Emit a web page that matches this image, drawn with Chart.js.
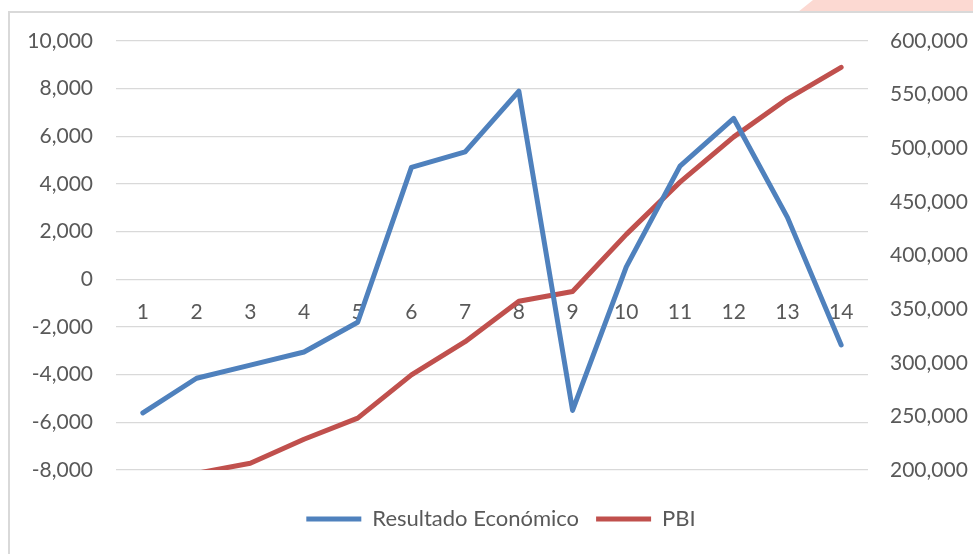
<!DOCTYPE html>
<html>
<head>
<meta charset="utf-8">
<script src="https://cdn.jsdelivr.net/npm/chart.js@4.4.1/dist/chart.umd.min.js"></script>
<style>
  html, body { margin: 0; padding: 0; background: #fff; }
  #wrap { position: relative; width: 973px; height: 554px; overflow: hidden; }
  #deco { position: absolute; left: 0; top: 0; width: 973px; height: 12px; background: #fcd9d2;
          clip-path: polygon(813px 0, 973px 0, 973px 12px, 798px 12px); }
  #frame { position: absolute; left: 8px; top: 11px; width: 990px; height: 580px;
           border-left: 2px solid #d9d9d9; border-top: 2px solid #d9d9d9; background: #fff; }
  .chart-box { position: absolute; left: 0; top: 0; width: 973px; height: 554px; }
</style>
</head>
<body>
<div id="wrap">
  <div id="deco"></div>
  <div id="frame"></div>
  <div class="chart-box"><canvas id="chartPbi"></canvas></div>
</div>
<script>
const categorias = ['1', '2', '3', '4', '5', '6', '7', '8', '9', '10', '11', '12', '13', '14'];
const resultadoEconomico = [-5600, -4150, -3600, -3050, -1800, 4700, 5350, 7900, -5500, 520, 4750, 6750, 2600, -2750];
const pbi = [185000, 196900, 206300, 228700, 248400, 288700, 319600, 357300, 366400, 419700, 468400, 510600, 546100, 575400];

const FONT = { family: 'Lato', size: 21 };
const GRIS = '#595959';

function numberFmt(value) {
  return new Intl.NumberFormat('en-US', { maximumFractionDigits: 0 }).format(Number(value || 0));
}

new Chart(document.getElementById('chartPbi'), {
  type: 'line',
  data: {
    labels: categorias,
    datasets: [
      {
        label: 'Resultado Económico',
        data: resultadoEconomico,
        yAxisID: 'y',
        borderColor: '#4f81bd',
        backgroundColor: '#4f81bd',
        borderWidth: 5,
        borderCapStyle: 'round',
        borderJoinStyle: 'round',
        pointRadius: 0,
        tension: 0,
        clip: 0
      },
      {
        label: 'PBI',
        data: pbi,
        yAxisID: 'y1',
        borderColor: '#c0504d',
        backgroundColor: '#c0504d',
        borderWidth: 5,
        borderCapStyle: 'round',
        borderJoinStyle: 'round',
        pointRadius: 0,
        tension: 0,
        clip: 0
      }
    ]
  },
  options: {
    responsive: true,
    maintainAspectRatio: false,
    animation: false,
    // left padding + y width = 116 (plot left edge); the extra left padding nudges the legend right
    layout: { padding: { top: 41, left: 29, right: 0, bottom: 14 } },
    plugins: {
      tooltip: { enabled: false },
      legend: {
        position: 'bottom',
        // empty title only used as a spacer between the plot and the legend row
        title: { display: true, text: '', font: { size: 10, lineHeight: 1.2 }, padding: { top: 9, bottom: 0 } },
        labels: {
          color: GRIS,
          font: { family: 'Lato', size: 22 },
          usePointStyle: true,
          pointStyle: 'line',
          pointStyleWidth: 55,
          padding: 17
        }
      }
    },
    scales: {
      x: {
        type: 'category',
        offset: true,
        position: { y: 0 },
        grid: { display: false, drawTicks: false },
        border: { display: false },
        ticks: { color: GRIS, font: FONT, padding: 20, maxRotation: 0, autoSkip: false }
      },
      y: {
        position: 'left',
        min: -8000,
        max: 10000,
        ticks: { stepSize: 2000, color: GRIS, font: FONT, padding: 23, callback: (v) => numberFmt(v) },
        grid: { color: '#d9d9d9', lineWidth: 1.2, drawTicks: false },
        border: { display: false },
        afterFit: (scale) => { scale.width = 87; }
      },
      y1: {
        position: 'right',
        min: 200000,
        max: 600000,
        ticks: { stepSize: 50000, color: GRIS, font: FONT, padding: 22, callback: (v) => numberFmt(v) },
        grid: { display: false, drawTicks: false },
        border: { display: false },
        afterFit: (scale) => { scale.width = 105; }
      }
    }
  }
});
</script>
</body>
</html>
